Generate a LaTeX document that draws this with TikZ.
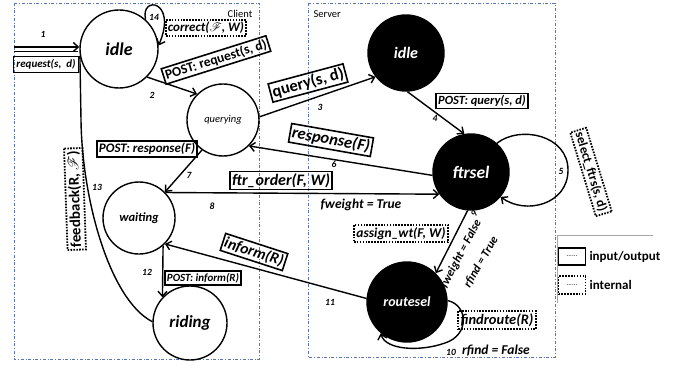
\documentclass[tikz,border=0pt]{standalone}
\usepackage{fontspec}
\setmainfont{Carlito}
\usepackage{mathrsfs}
\usetikzlibrary{arrows.meta}
\newcommand{\myfs}[1]{\fontsize{#1}{#1}\selectfont}
\definecolor{frameblue}{HTML}{5B77A8}
\begin{document}
\begin{tikzpicture}[x=1pt,y=1pt,
  st/.style={circle,draw,line width=1.4pt,inner sep=0pt},
  bst/.style={st,fill=black,text=white},
  io/.style={draw,line width=1.6pt,inner sep=2pt,font=\bfseries\itshape},
  intl/.style={draw,line width=1.8pt,dash pattern=on 1.6pt off 1.3pt,inner sep=2.5pt,font=\bfseries\itshape},
  num/.style={font=\bfseries\itshape\myfs{9.5}},
  lbl/.style={font=\bfseries\itshape\myfs{12}},
  arr/.style={line width=1.4pt,-{Straight Barb[length=5pt,width=9pt]}},
  pl/.style={line width=1.4pt},
  frame/.style={draw=frameblue,dash dot,line width=0.8pt}]
\useasboundingbox (0,0) rectangle (676,-366);
% frames
\draw[frame] (14,-3) rectangle (259,-359);
\draw[frame] (308,-3) rectangle (555,-357);
\node[font=\myfs{10.5}] (clientlbl) at (240,-14) {Client};
\node[font=\myfs{10.5},anchor=west] (serverlbl) at (310,-14) {Server};
% states
\node[st,minimum size=78pt,font=\bfseries\itshape\myfs{18}] (cidle) at (119,-49) {idle};
\node[st,minimum size=72pt,font=\itshape\myfs{10.5}] (qry) at (223,-120) {querying};
\node[st,minimum size=72pt,font=\bfseries\itshape\myfs{12.5}] (wait) at (139,-218) {waiting};
\node[st,minimum size=74pt,font=\bfseries\itshape\myfs{17}] (ride) at (190,-323) {riding};
\node[bst,minimum size=76pt,font=\bfseries\itshape\myfs{16}] (sidle) at (406,-53) {idle};
\node[bst,minimum size=76pt,font=\bfseries\itshape\myfs{17.5}] (ftr) at (471,-172) {ftrsel};
\node[bst,minimum size=80pt,font=\bfseries\itshape\myfs{14}] (rsel) at (407,-302) {routesel};
% input arrow 1
\coordinate (in1) at (14,-47);
\coordinate (in1b) at (14,-51.5);
\coordinate (in1e) at (78,-51.5);
\draw[arr] (in1) -- (in1 -| cidle.west);
\draw[line width=1pt] (in1b) -- (in1e);
\node[num] (n1) at (43,-34) {1};
\node[io,font=\bfseries\itshape\myfs{11},minimum width=65pt,minimum height=16pt,inner sep=1pt] (reqb) at (46,-64.5) {request(s,~~d)};
% loop 14
\draw[arr] (cidle.48) .. controls (140,5) and (178,0) .. (cidle.5);
\node[num] (n14) at (154,-17) {14};
\node[intl,font=\bfseries\itshape\myfs{13},inner sep=2pt] (corb) at (206,-28) {correct($\mathscr{F}$, W)};
% 2
\draw[arr] (cidle.-45) -- (qry.135);
\node[num] (n2) at (152,-95) {2};
\node[io,rotate=17.5,font=\bfseries\myfs{13.5}] (postreq) at (216,-60) {POST: request(s, d)};
% 3
\draw[arr] (qry.5) -- (sidle.218);
\node[num] (n3) at (320,-107) {3};
\node[io,rotate=15,font=\bfseries\myfs{16.5}] (qb) at (308,-83) {query(s, d)};
% 4
\draw[arr] (sidle.-88) -- (ftr.100);
\node[num] (n4) at (435,-118) {4};
\node[io,font=\bfseries\itshape\myfs{12.5}] (postq) at (482,-101) {POST: query(s, d)};
% 5
\draw[arr] (ftr.48) .. controls (520,-125) and (568,-135) .. (568,-170) .. controls (568,-205) and (525,-215) .. (ftr.-40);
\node[num] (n5) at (561,-171) {5};
\node[intl,rotate=-73,font=\bfseries\myfs{13}] (selb) at (591,-172) {select\_ftrs(s, d)};
% 6
\draw[arr] (ftr.185) -- (qry.-45);
\node[num] (n6) at (334,-164) {6};
\node[io,rotate=-10,font=\bfseries\itshape\myfs{16.5}] (respb) at (331,-140) {response(F)};
% 7
\draw[arr] (qry.-125) -- (wait.45);
\node[num] (n7) at (189,-175) {7};
\node[io,font=\bfseries\itshape\myfs{13}] (postresp) at (147,-149) {POST: response(F)};
% 8
\draw[arr] (wait.44) -- (ftr.215);
\node[num] (n8) at (212,-206) {8};
\node[io,font=\bfseries\itshape\myfs{16}] (ftrob) at (281,-180.5) {ftr\_order(F, W)};
\node[lbl,font=\bfseries\itshape\myfs{13.5}] (fwt) at (361,-205) {fweight = True};
\node[intl,font=\bfseries\itshape\myfs{13.5}] (asgb) at (401,-233.5) {assign\_wt(F, W)};
% 9
\draw[arr] (ftr.-95) -- (rsel.45);
\node[num,rotate=60] (n9) at (474,-214) {9};
\node[lbl,rotate=62,font=\bfseries\itshape\myfs{12}] (fwf) at (461,-254) {fweight = False};
\node[lbl,rotate=60,font=\bfseries\itshape\myfs{12}] (rft) at (481,-262) {rfind = True};
% 10
\draw[arr] (rsel.2) .. controls (468,-305) and (470,-335) .. (445,-343) .. controls (420,-352) and (385,-350) .. (rsel.-130);
\node[num] (n10) at (451,-352) {10};
\node[intl,font=\bfseries\itshape\myfs{14.5}] (frb) at (497,-320) {findroute(R)};
\node[lbl,font=\bfseries\itshape\myfs{13.5}] (rff) at (496,-351) {rfind = False};
% 11
\draw[arr] (rsel.175) -- (wait.-45);
\node[num] (n11) at (330,-302) {11};
\node[io,rotate=-18,font=\bfseries\itshape\myfs{15.5}] (infb) at (254,-252) {inform(R)};
% 12
\draw[arr] (wait.-49) -- (ride.137);
\node[num] (n12) at (147,-272) {12};
\node[io,font=\bfseries\itshape\myfs{11}] (postinf) at (203,-278) {POST: inform(R)};
% 13
\draw[pl] (ride.178) .. controls (110,-300) and (82,-200) .. (81,-120) -- (cidle.190);
\node[num] (n13) at (97,-187) {13};
\node[intl,rotate=92,font=\bfseries\myfs{15}] (fbb) at (75,-199) {feedback(R, $\mathscr{F}$)};
% legend
\coordinate (lg1) at (557,-235);
\coordinate (lg2) at (653,-235);
\coordinate (lg3) at (557,-303);
\draw[gray!70,line width=0.8pt] (lg2) -- (lg1) -- (lg3);
\node[io,minimum width=27pt,minimum height=17pt,font=\myfs{7},inner sep=1pt] (lio) at (572,-256.5) {......};
\node[intl,minimum width=27pt,minimum height=18pt,font=\myfs{7},inner sep=1pt] (lint) at (572,-285) {......};
\node[anchor=west,font=\bfseries\myfs{13},inner sep=1pt] (liot) at ([xshift=2pt]lio.east) {input/output};
\node[anchor=west,font=\bfseries\myfs{13},inner sep=1pt] (lintt) at ([xshift=2pt]lint.east) {internal};
\end{tikzpicture}
\end{document}
